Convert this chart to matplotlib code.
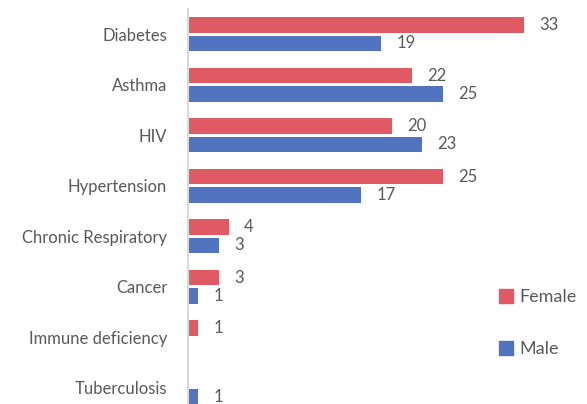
import matplotlib.pyplot as plt
from matplotlib.patches import Patch

categories = ["Diabetes", "Asthma", "HIV", "Hypertension", "Chronic Respiratory",
              "Cancer", "Immune deficiency", "Tuberculosis"]
female = [33, 22, 20, 25, 4, 3, 1, 0]
male = [19, 25, 23, 17, 3, 1, 0, 1]

red = "#DF5A62"
blue = "#5274C0"
grey = "#595959"

plt.rcParams['font.family'] = ['Lato', 'DejaVu Sans']

fig = plt.figure(figsize=(5.87, 4.04), dpi=100)
ax = fig.add_axes([188 / 587, 0, 1 - 188 / 587, 1 - 9 / 404])

ypos = list(range(len(categories)))
h = 0.31
off = 0.18
ax.barh([y - off for y in ypos], female, height=h, color=red, label="Female")
ax.barh([y + off for y in ypos], male, height=h, color=blue, label="Male")

for y, v in zip(ypos, female):
    if v:
        ax.annotate(str(v), (v, y - off), xytext=(11, 0), textcoords="offset points",
                    va="center", ha="left", fontsize=12, color=grey)
for y, v in zip(ypos, male):
    if v:
        ax.annotate(str(v), (v, y + off), xytext=(11, 0), textcoords="offset points",
                    va="center", ha="left", fontsize=12, color=grey)

ax.set_xlim(0, (587 - 188) / 10.18)
ax.set_ylim(-0.5 + 395 / 50.5, -0.5)
ax.set_yticks(ypos)
ax.set_yticklabels(categories, fontsize=12, color=grey)
ax.tick_params(axis='y', length=0, pad=15)
ax.set_xticks([])
for s in ["top", "right", "bottom"]:
    ax.spines[s].set_visible(False)
ax.spines["left"].set_color("#D9D9D9")
ax.spines["left"].set_linewidth(1.5)

handles = [Patch(color=red), Patch(color=blue)]
fig.legend(handles, ["Female", "Male"], loc="center left",
           bbox_to_anchor=(490 / 587, 1 - 323 / 404), frameon=False,
           fontsize=13, handlelength=0.8, handleheight=0.8,
           handletextpad=0.35, labelspacing=2.0, borderpad=0,
           labelcolor=grey)

fig.savefig("out.png", dpi=100)
